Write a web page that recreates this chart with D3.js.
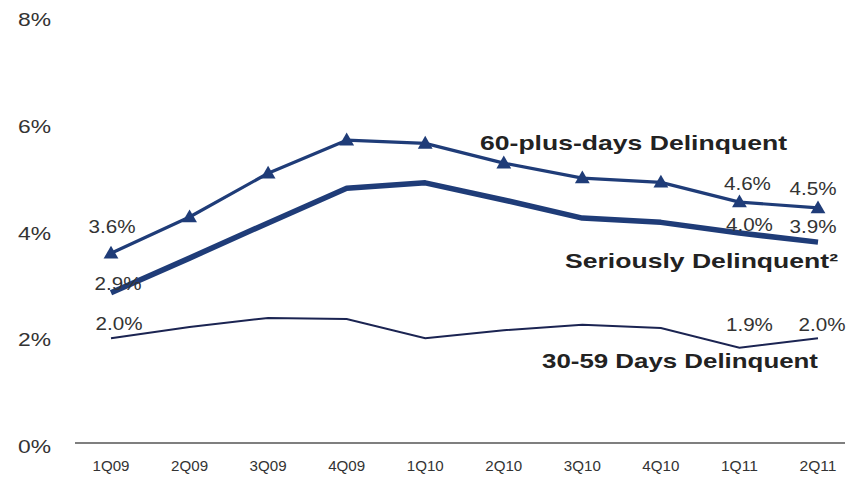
<!DOCTYPE html>
<html lang="en">
<head>
<meta charset="UTF-8">
<title>Delinquency rates</title>
<script src="https://d3js.org/d3.v7.min.js"></script>
<style>
  body { margin: 0; background: #fff; }
  svg { display: block; font-family: "Liberation Sans", Arial, sans-serif; }
</style>
</head>
<body>
<div id="chart"></div>
<script>
// quarters and series values (percent)
var quarters = ["1Q09", "2Q09", "3Q09", "4Q09", "1Q10", "2Q10", "3Q10", "4Q10", "1Q11", "2Q11"];
var plus60 = [3.61, 4.29, 5.11, 5.73, 5.67, 5.30, 5.02, 4.94, 4.57, 4.46];
var serious = [2.87, 3.52, 4.18, 4.83, 4.93, 4.61, 4.27, 4.19, 3.99, 3.82];
var days3059 = [2.02, 2.23, 2.40, 2.38, 2.02, 2.17, 2.27, 2.21, 1.84, 2.02];
var yTicks = [0, 2, 4, 6, 8];

// annotated values (first and last two quarters)
var plus60Labels = ["3.6%", null, null, null, null, null, null, null, "4.6%", "4.5%"];
var seriousLabels = ["2.9%", null, null, null, null, null, null, null, "4.0%", "3.9%"];
var days3059Labels = ["2.0%", null, null, null, null, null, null, null, "1.9%", "2.0%"];

var width = 867, height = 478;
var navy = "#1f3c78";
var dark = "#1b2452";
var txt = "#333";

var svg = d3.select("#chart").append("svg")
  .attr("width", width)
  .attr("height", height);

var x = d3.scalePoint().domain(quarters).range([111, 818]);
var y = d3.scaleLinear().domain([0, 8]).range([446, 19]);

// y tick labels
svg.append("g").selectAll("text")
  .data(yTicks)
  .enter().append("text")
    .attr("x", 18)
    .attr("y", function(d) { return y(d) + 7; })
    .attr("textLength", 33)
    .attr("lengthAdjust", "spacingAndGlyphs")
    .style("font-size", "19px")
    .style("fill", txt)
    .text(function(d) { return d + "%"; });

// x axis labels
svg.append("g").selectAll("text")
  .data(quarters)
  .enter().append("text")
    .attr("x", function(d) { return x(d); })
    .attr("y", 471)
    .attr("text-anchor", "middle")
    .attr("textLength", 37)
    .attr("lengthAdjust", "spacingAndGlyphs")
    .style("font-size", "15px")
    .style("fill", txt)
    .text(function(d) { return d; });

svg.append("line")
  .attr("x1", 75).attr("x2", 845)
  .attr("y1", 443).attr("y2", 443)
  .attr("stroke", "#555")
  .attr("stroke-width", 1.5);

var line = d3.line()
  .x(function(d, i) { return x(quarters[i]); })
  .y(function(d) { return y(d); });

svg.append("path").datum(days3059)
  .attr("d", line).attr("fill", "none")
  .attr("stroke", dark).attr("stroke-width", 2);

svg.append("path").datum(serious)
  .attr("d", line).attr("fill", "none")
  .attr("stroke", navy).attr("stroke-width", 5.5)
  .attr("stroke-linejoin", "round");

svg.append("path").datum(plus60)
  .attr("d", line).attr("fill", "none")
  .attr("stroke", navy).attr("stroke-width", 3.2)
  .attr("stroke-linejoin", "round");

svg.append("g").selectAll("path")
  .data(plus60)
  .enter().append("path")
    .attr("d", d3.symbol().type(d3.symbolTriangle).size(95))
    .attr("transform", function(d, i) { return "translate(" + x(quarters[i]) + "," + (y(d) + 1) + ")"; })
    .attr("fill", navy);

// value annotations: offsets for first, 1Q11 and 2Q11 labels
function drawLabels(values, labels, dx, dy) {
  labels.forEach(function(t, i) {
    if (!t) return;
    var k = i === 0 ? 0 : (i === 8 ? 1 : 2);
    svg.append("text")
      .attr("x", x(quarters[i]) + dx[k])
      .attr("y", y(values[i]) + dy[k])
      .attr("text-anchor", "middle")
      .attr("textLength", 47)
      .attr("lengthAdjust", "spacingAndGlyphs")
      .style("font-size", "19px")
      .style("fill", txt)
      .text(t);
  });
}
drawLabels(plus60, plus60Labels, [1, 8, -5], [-20, -12, -13]);
drawLabels(serious, seriousLabels, [7, 10, -5], [-3, -2, -9]);
drawLabels(days3059, days3059Labels, [8, 10, 4], [-8, -17, -7]);

// series names
function seriesName(text, x0, x1, base) {
  svg.append("text")
    .attr("x", x0)
    .attr("y", base)
    .attr("textLength", x1 - x0)
    .attr("lengthAdjust", "spacingAndGlyphs")
    .style("font-size", "21px")
    .style("font-weight", "bold")
    .style("fill", "#222")
    .text(text);
}
seriesName("60-plus-days Delinquent", 480, 787, 150);
seriesName("Seriously Delinquent\u00b2", 565, 838, 268);
seriesName("30-59 Days Delinquent", 542, 818, 368);
</script>
</body>
</html>
